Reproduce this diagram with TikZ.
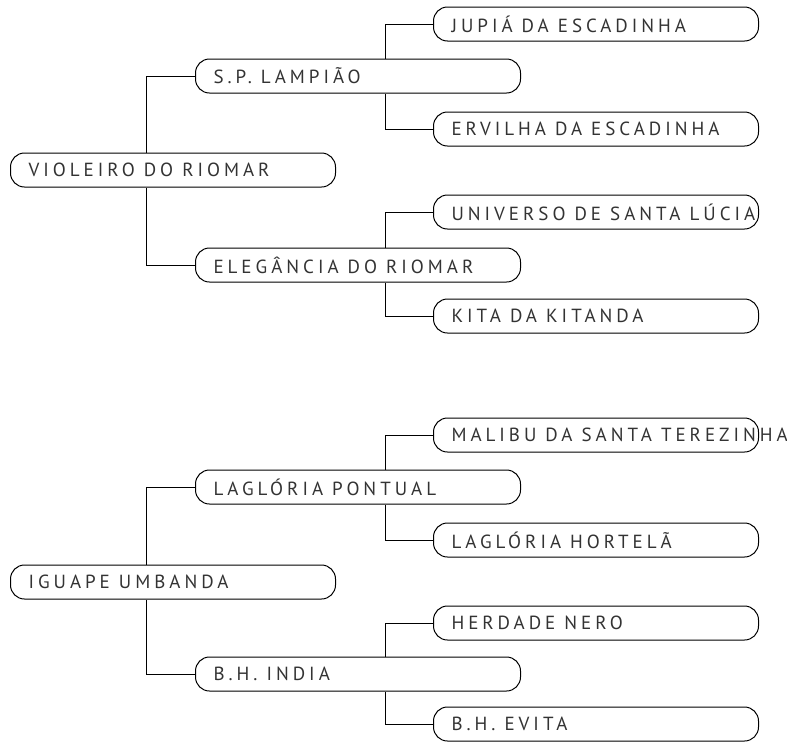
\documentclass[tikz,border=0pt]{standalone}
\usepackage{fontspec}
\setmainfont{PT Sans}[LetterSpace=21]
\definecolor{txt}{HTML}{333333}
\begin{document}
\begin{tikzpicture}[x=1pt,y=-1pt,
  horse/.style={draw=black,line width=1pt,rounded corners=14pt,fill=white,
    minimum height=34pt,inner xsep=18pt,inner ysep=0pt,anchor=west,
    font=\fontsize{19}{21}\selectfont,text=txt},
  link/.style={draw=black,line width=0.9pt}]
\useasboundingbox (0,0) rectangle (787,742);
\newcommand{\hl}[1]{\makebox[289pt][l]{#1}}
% top tree
\node[horse] (r1) at (10,170) {\hl{VIOLEIRO DO RIOMAR}};
\node[horse] (sp) at (195,76) {\hl{S.P. LAMPIÃO}};
\node[horse] (ju) at (433,24) {\hl{JUPIÁ DA ESCADINHA}};
\node[horse] (er) at (433,129) {\hl{ERVILHA DA ESCADINHA}};
\node[horse] (el) at (195,265) {\hl{ELEGÂNCIA DO RIOMAR}};
\node[horse] (un) at (433,212) {\hl{UNIVERSO DE SANTA LÚCIA}};
\node[horse] (ki) at (433,316) {\hl{KITA DA KITANDA}};
\coordinate (s1) at (146,170);
\coordinate (s2) at (385,76);
\coordinate (s3) at (385,265);
\draw[link] (sp.west) -| (s1 |- r1.north);
\draw[link] (el.west) -| (s1 |- r1.south);
\draw[link] (ju.west) -| (s2 |- sp.north);
\draw[link] (er.west) -| (s2 |- sp.south);
\draw[link] (un.west) -| (s3 |- el.north);
\draw[link] (ki.west) -| (s3 |- el.south);
% bottom tree
\node[horse] (r2) at (10,582) {\hl{IGUAPE UMBANDA}};
\node[horse] (lp) at (195,487) {\hl{LAGLÓRIA PONTUAL}};
\node[horse] (ma) at (433,435) {\hl{MALIBU DA SANTA TEREZINHA}};
\node[horse] (lh) at (433,540) {\hl{LAGLÓRIA HORTELÃ}};
\node[horse] (bh) at (195,674) {\hl{B.H. INDIA}};
\node[horse] (he) at (433,623) {\hl{HERDADE NERO}};
\node[horse] (ev) at (433,724) {\hl{B.H. EVITA}};
\coordinate (t1) at (146,582);
\coordinate (t2) at (385,487);
\coordinate (t3) at (385,674);
\draw[link] (lp.west) -| (t1 |- r2.north);
\draw[link] (bh.west) -| (t1 |- r2.south);
\draw[link] (ma.west) -| (t2 |- lp.north);
\draw[link] (lh.west) -| (t2 |- lp.south);
\draw[link] (he.west) -| (t3 |- bh.north);
\draw[link] (ev.west) -| (t3 |- bh.south);
\end{tikzpicture}
\end{document}
